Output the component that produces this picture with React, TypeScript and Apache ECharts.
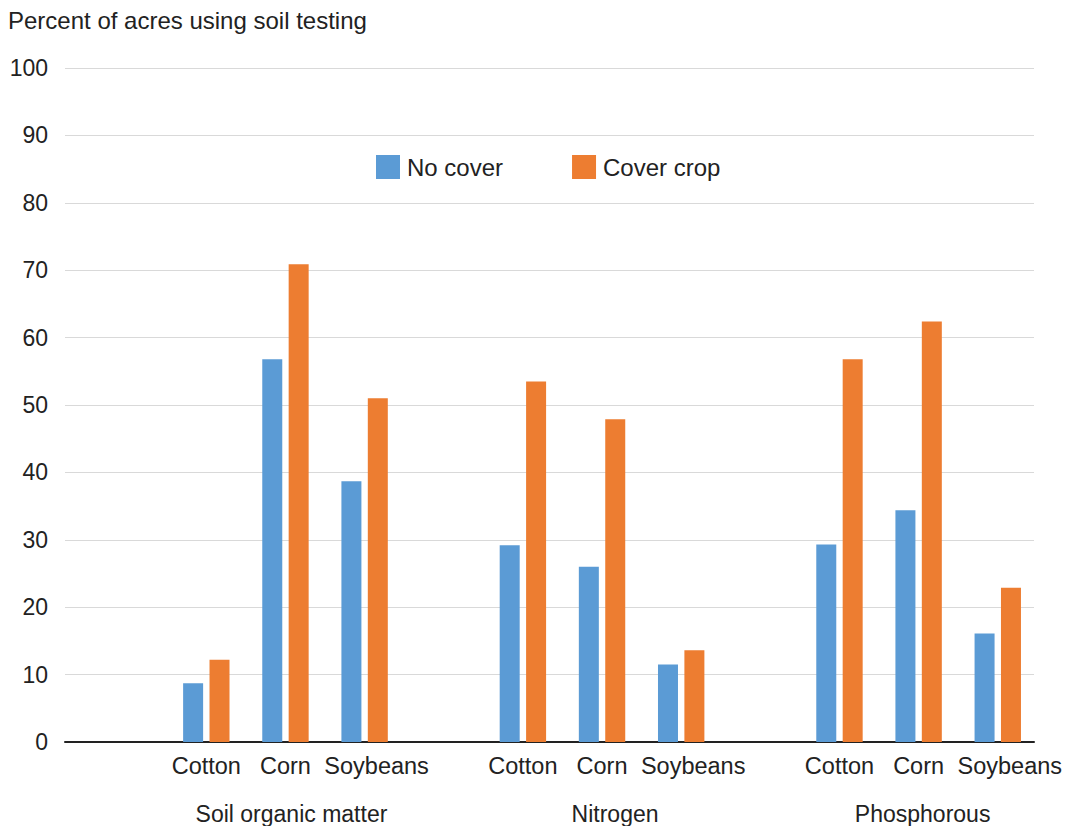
import React, { useEffect, useRef } from "react";
import * as echarts from "echarts";

const groups = ["Soil organic matter", "Nitrogen", "Phosphorous"];
const crops = ["Cotton", "Corn", "Soybeans"];
const noCover = [8.7, 56.8, 38.7, 29.2, 26.0, 11.5, 29.3, 34.4, 16.1];
const coverCrop = [12.2, 70.9, 51.0, 53.5, 47.9, 13.6, 56.8, 62.4, 22.9];
const yTicks = [0, 10, 20, 30, 40, 50, 60, 70, 80, 90, 100];
const seriesNames = ["No cover", "Cover crop"];

const FONT = "'Liberation Sans', Arial, Helvetica, sans-serif";
const TEXT = "#222222";

export default function App() {
  const ref = useRef<HTMLDivElement>(null);
  useEffect(() => {
    if (!ref.current) return;
    const chart = echarts.init(ref.current, null, { renderer: "svg" });

    const cats: string[] = [];
    const groupCats: string[] = [];
    const blue: (number | string)[] = [];
    const orange: (number | string)[] = [];
    groups.forEach((g, gi) => {
      cats.push("");
      groupCats.push("");
      blue.push("-");
      orange.push("-");
      crops.forEach((c, ci) => {
        cats.push(c);
        groupCats.push(ci === 1 ? g : "");
        blue.push(noCover[gi * crops.length + ci]);
        orange.push(coverCrop[gi * crops.length + ci]);
      });
    });

    const groupRich: Record<string, any> = {
      g0: { fontFamily: FONT, fontSize: 23, color: TEXT, padding: [0, 0, 0, 12] },
      g1: { fontFamily: FONT, fontSize: 23, color: TEXT, padding: [0, 0, 0, 26] },
      g2: { fontFamily: FONT, fontSize: 23, color: TEXT, padding: [0, 0, 0, 8] },
    };

    const option: any = {
      animation: false,
      backgroundColor: "#ffffff",
      textStyle: { fontFamily: FONT, color: TEXT },
      title: {
        text: "Percent of acres using soil testing",
        left: 8,
        top: 8,
        padding: 0,
        textStyle: { fontFamily: FONT, fontSize: 24, fontWeight: "normal", color: TEXT },
      },
      legend: {
        data: seriesNames,
        left: 376,
        top: 155,
        padding: 0,
        itemWidth: 24,
        itemHeight: 24,
        itemGap: 69,
        icon: "rect",
        textStyle: { fontFamily: FONT, fontSize: 24, color: TEXT, padding: [0, 0, 0, 2] },
      },
      grid: [
        { left: 65, right: 31, top: 68, bottom: 84 },
        { left: 87.6, right: 27, top: 68, bottom: 84 },
      ],
      xAxis: [
        {
          type: "category",
          gridIndex: 0,
          data: [""],
          axisLine: { show: true, lineStyle: { color: "#222", width: 2 } },
          axisTick: { show: false },
          axisLabel: { show: false },
        },
        {
          type: "category",
          gridIndex: 1,
          data: cats,
          axisLine: { show: false },
          axisTick: { show: false },
          axisLabel: {
            interval: 0,
            margin: 12,
            fontFamily: FONT,
            fontSize: 23.5,
            color: TEXT,
            formatter: (v: string) => (v === "Soybeans" ? "{s|" + v + "}" : v),
            rich: { s: { fontFamily: FONT, fontSize: 23.5, color: TEXT, padding: [0, 0, 0, 24] } },
          },
        },
        {
          type: "category",
          gridIndex: 1,
          data: groupCats,
          position: "bottom",
          offset: 48,
          axisLine: { show: false },
          axisTick: { show: false },
          axisLabel: {
            interval: 0,
            margin: 12,
            fontFamily: FONT,
            fontSize: 23,
            color: TEXT,
            formatter: (v: string) => {
              const gi = groups.indexOf(v);
              return gi >= 0 ? "{g" + gi + "|" + v + "}" : v;
            },
            rich: groupRich,
          },
        },
      ],
      yAxis: [
        {
          type: "value",
          gridIndex: 0,
          min: yTicks[0],
          max: yTicks[yTicks.length - 1],
          interval: 10,
          axisLine: { show: false },
          axisTick: { show: false },
          axisLabel: { margin: 17, fontFamily: FONT, fontSize: 23, color: TEXT },
          splitLine: { show: true, lineStyle: { color: "#d9d9d9", width: 1 } },
        },
        {
          type: "value",
          gridIndex: 1,
          min: yTicks[0],
          max: yTicks[yTicks.length - 1],
          interval: 10,
          show: false,
          splitLine: { show: false },
        },
      ],
      series: [
        {
          name: seriesNames[0],
          type: "bar",
          xAxisIndex: 1,
          yAxisIndex: 1,
          data: blue,
          barWidth: 20,
          barGap: "32%",
          itemStyle: { color: "#5b9bd5" },
        },
        {
          name: seriesNames[1],
          type: "bar",
          xAxisIndex: 1,
          yAxisIndex: 1,
          data: orange,
          barWidth: 20,
          barGap: "32%",
          itemStyle: { color: "#ed7d31" },
        },
      ],
    };
    chart.setOption(option);
    return () => chart.dispose();
  }, []);

  return (
    <div
      ref={ref}
      style={{ position: "fixed", left: 0, top: 0, width: 1065, height: 826, background: "#fff" }}
    />
  );
}
